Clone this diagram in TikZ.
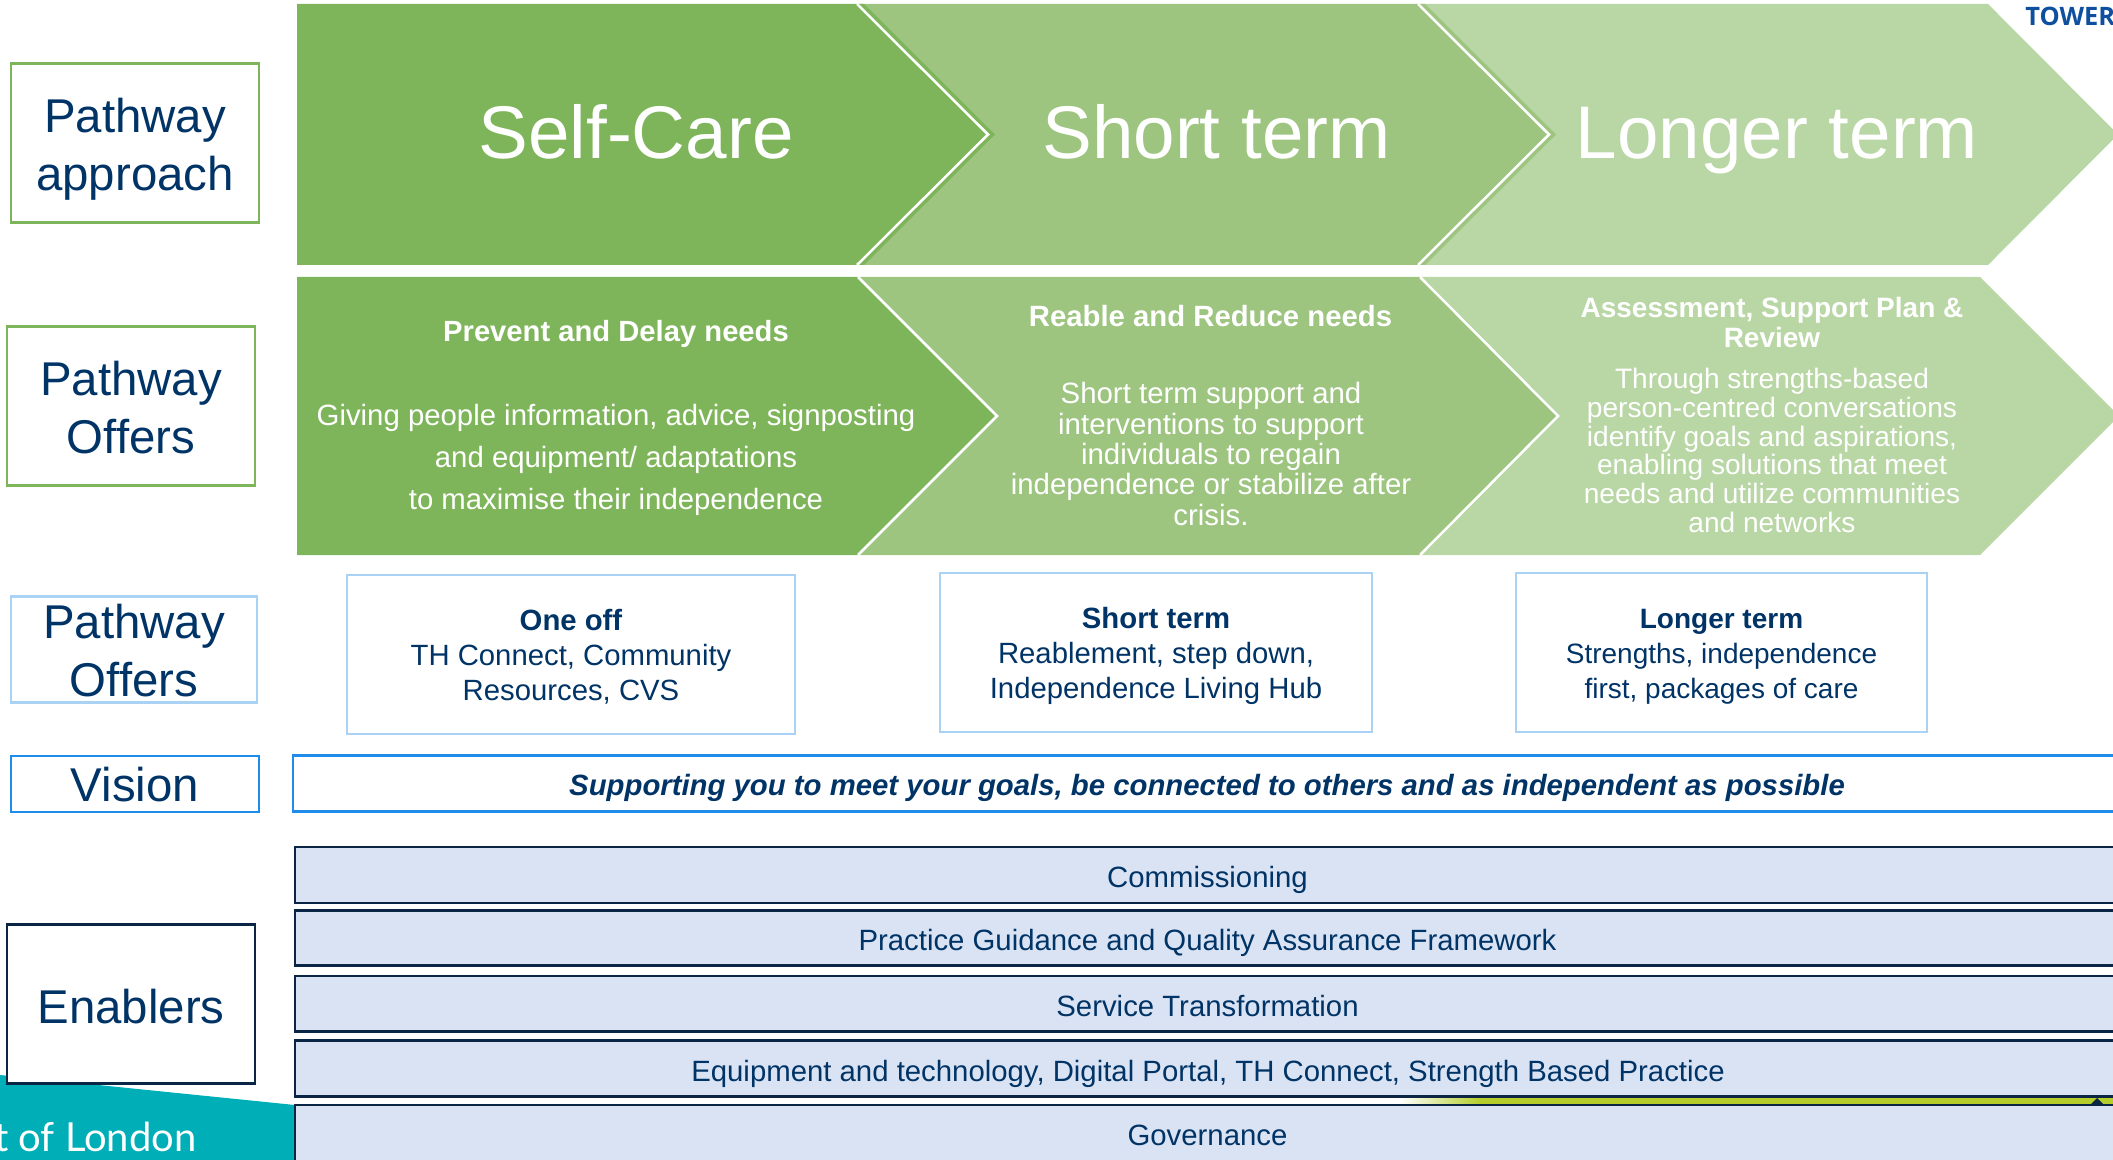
\documentclass[tikz,border=0pt]{standalone}
\usepackage{fontspec}
\setmainfont{Liberation Sans}
\newfontfamily\latofont{Lato}
\newfontfamily\openfont{Open Sans}
\definecolor{gA}{HTML}{7FB55A}
\definecolor{gB}{HTML}{9DC580}
\definecolor{gC}{HTML}{B9D6A5}
\definecolor{navy}{HTML}{003366}
\definecolor{edgeDark}{HTML}{0B2545}
\definecolor{barFill}{HTML}{DAE3F3}
\definecolor{teal}{HTML}{00AEB8}
\definecolor{lime}{HTML}{B5CE2B}
\definecolor{boxGreen}{HTML}{7FB55A}
\definecolor{boxPale}{HTML}{A9D2F5}
\definecolor{boxBlue}{HTML}{1F8CEB}
\definecolor{logoBlue}{HTML}{0F4F9F}
\newcommand{\fs}[2]{\fontsize{#1}{#2}\selectfont}
\tikzset{
  chev/.style={draw=white,line width=1.25pt,line join=miter},
  head/.style={text=white,font=\fs{37.3}{42}},
  sidelabel/.style={text=navy,align=center,font=\fs{23.7}{29}},
  offerbox/.style={draw=boxPale,line width=1.4pt,fill=white},
  offertext/.style={text=navy,align=center,font=\fs{14.65}{17.6}},
  longtext/.style={text=navy,align=center,font=\fs{14}{17.6}},
  bartext/.style={text=navy,font=\fs{14.67}{18}},
  enbar/.style={draw=edgeDark,line width=1.35pt,fill=barFill},
}
\begin{document}
\begin{tikzpicture}[x=0.5pt,y=-0.5pt]
\useasboundingbox (0,0) rectangle (2113,1160);
\clip (0,0) rectangle (2113,1160);
% teal footer
\fill[teal] (0,1075) -- (295,1105) -- (295,1160) -- (0,1160) -- cycle;
\node[anchor=base east,text=white,font=\latofont\fs{20}{22},inner sep=0pt] (london) at (197,1151) {t of London};
% logo
\node[anchor=base west,text=logoBlue,font=\openfont\bfseries\fs{12.7}{16},inner sep=0pt] (tower) at (2025,26) {TOWER};
% top chevrons
\fill[gC] (1420,4) -- (1988,4) -- (2118,134.5) -- (1988,265) -- (1420,265) -- cycle;
\fill[gB] (858,4) -- (1425,4) -- (1556,134.5) -- (1425,265) -- (858,265) -- cycle;
\draw[chev] (1418,4) -- (1549,134.5) -- (1418,265);
\fill[gA] (297,4) -- (864,4) -- (995,134.5) -- (864,265) -- (297,265) -- cycle;
\draw[chev] (857,4) -- (988,134.5) -- (857,265);
% second chevrons
\fill[gC] (1420,277) -- (1980,277) -- (2119,416) -- (1980,555) -- (1420,555) -- cycle;
\fill[gB] (858,277) -- (1420,277) -- (1558,416) -- (1420,555) -- (858,555) -- cycle;
\draw[chev] (1420,277) -- (1558,416) -- (1420,555);
\fill[gA] (297,277) -- (858,277) -- (997,416) -- (858,555) -- (297,555) -- cycle;
\draw[chev] (858,277) -- (997,416) -- (858,555);
% top titles
\node[head] (selfcare) at (636,132) {Self-Care};
\node[head] (shortterm) at (1216.5,132) {Short term};
\node[head] (longterm) at (1777,141) {Longer term};
% second row text
\node[text=white,font=\bfseries\fs{14.6}{17}] (prevent) at (616,333.5) {Prevent and Delay needs};
\node[text=white,align=center,font=\fs{14.67}{21}] (preventbody) at (616,460) {Giving people information, advice, signposting\\and equipment/ adaptations\\to maximise their independence};
\node[text=white,font=\bfseries\fs{14.65}{17}] (reable) at (1210.5,316.5) {Reable and Reduce needs};
\node[text=white,align=center,font=\fs{14.7}{15.2}] (reablebody) at (1211,454) {Short term support and\\interventions to support\\individuals to regain\\independence or stabilize after\\crisis.};
\node[text=white,align=center,font=\bfseries\fs{14}{15}] (assess) at (1772,322) {Assessment, Support Plan \&\\Review};
\node[text=white,align=center,font=\fs{14.05}{14.4}] (assessbody) at (1772,450.5) {Through strengths-based\\person-centred conversations\\identify goals and aspirations,\\enabling solutions that meet\\needs and utilize communities\\and networks};
% side labels
\node[draw=boxGreen,line width=1.4pt,minimum width=124pt,minimum height=79.5pt] (approach) at (135,143) {};
\node[sidelabel] (approachtext) at (135,149) {Pathway\\approach};
\node[draw=boxGreen,line width=1.4pt,minimum width=124pt,minimum height=79.5pt] (offersA) at (131,406) {};
\node[sidelabel] (offersAtext) at (131,408) {Pathway\\Offers};
\node[draw=boxPale,line width=1.4pt,minimum width=123pt,minimum height=53pt] (offersB) at (134,649.5) {};
\node[sidelabel] (offersBtext) at (134,651) {Pathway\\Offers};
\node[draw=boxBlue,line width=1.4pt,minimum width=124pt,minimum height=28pt] (vision) at (135,784) {};
\node[sidelabel] (visionlabel) at (135,785) {Vision};
\node[draw=edgeDark,line width=1.35pt,fill=white,minimum width=124pt,minimum height=79.5pt] (enablers) at (131,1004) {};
\node[sidelabel] (enablerstext) at (131,1007) {Enablers};
% offer boxes
\node[offerbox,minimum width=224pt,minimum height=79.5pt] (oneoff) at (571,654.5) {};
\node[offertext] (oneofftext) at (571,657) {\textbf{One off}\\TH Connect, Community\\Resources, CVS};
\node[offerbox,minimum width=216pt,minimum height=79.5pt] (shortbox) at (1156,652.5) {};
\node[offertext] (shorttext) at (1156,656) {\textbf{Short term}\\Reablement, step down,\\Independence Living Hub};
\node[offerbox,minimum width=205.5pt,minimum height=79.5pt] (longbox) at (1721.5,652.5) {};
\node[longtext] (longtxt) at (1721.5,657) {\textbf{Longer term}\\Strengths, independence\\first, packages of care};
% vision bar
\draw[draw=boxBlue,line width=1.4pt,fill=white] (293,755.5) rectangle (2125,811.5);
\node[text=navy,font=\bfseries\itshape\fs{14.66}{18}] (visiontext) at (1207,788) {Supporting you to meet your goals, be connected to others and as independent as possible};
% enabler bars
\draw[enbar] (295,847) rectangle (2125,903);
\draw[enbar] (295,910.5) rectangle (2125,965.5);
\draw[enbar] (295,976) rectangle (2125,1031.5);
\draw[enbar] (295,1040.5) rectangle (2125,1096.5);
\shade[left color=white,right color=lime,shading angle=90] (1400,1098) rectangle (1480,1103.5);
\fill[lime] (1480,1098) rectangle (2113,1103.5);
\draw[enbar] (295,1105) rectangle (2125,1175);
\fill[edgeDark] (2091,1104) -- (2097,1098) -- (2103,1104) -- cycle;
\node[bartext] (comm) at (1207.5,880) {Commissioning};
\node[bartext] (practice) at (1207.5,943) {Practice Guidance and Quality Assurance Framework};
\node[bartext] (service) at (1207.5,1006.5) {Service Transformation};
\node[bartext] (equip) at (1208,1074) {Equipment and technology, Digital Portal, TH Connect, Strength Based Practice};
\node[bartext] (gov) at (1207.5,1135) {Governance};
\end{tikzpicture}
\end{document}
